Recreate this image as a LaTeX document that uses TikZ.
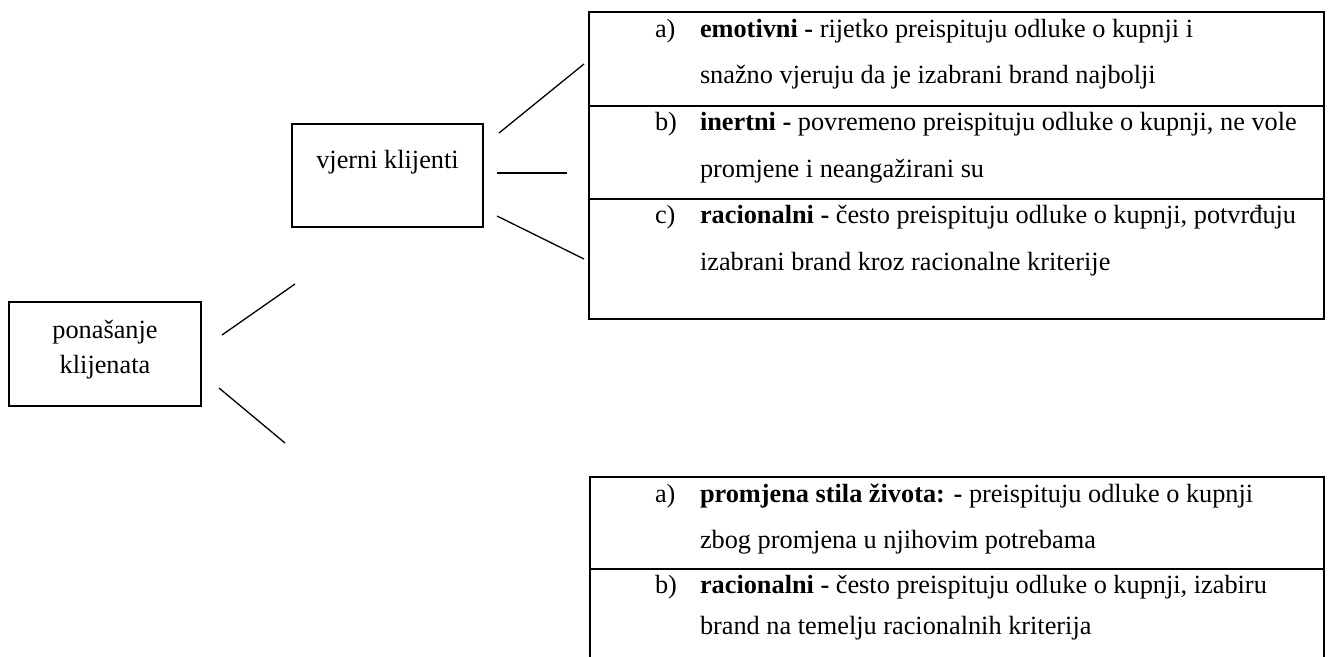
\documentclass[tikz,border=0pt]{standalone}
\usepackage{fontspec}
\setmainfont{Liberation Serif}
\newcommand{\dfs}{\fontsize{26.3bp}{32bp}\selectfont}
\tikzset{
  boxnode/.style={draw, line width=2bp, rectangle, inner sep=0pt, outer sep=0pt},
  conn/.style={line width=1.3bp},
  tbl/.style={line width=2.2bp, line join=miter},
  txt/.style={anchor=base west, inner sep=0pt, outer sep=0pt, font=\dfs},
  ctxt/.style={anchor=base, inner sep=0pt, outer sep=0pt, font=\dfs},
}
\begin{document}
\begin{tikzpicture}[x=1bp,y=-1bp]
\useasboundingbox (0,0) rectangle (1331,657);
% left boxes
\node[boxnode, minimum width=192bp, minimum height=104bp] (pon) at (105,354) {};
\node[ctxt] (pon1) at (105,338) {ponašanje};
\node[ctxt] (pon2) at (105,373) {klijenata};
\node[boxnode, minimum width=191bp, minimum height=103bp] (vj) at (387.5,175.5) {};
\node[ctxt] (vjt) at (387.5,168) {vjerni klijenti};
% upper table
\node[boxnode, line width=2.2bp, minimum width=735bp, minimum height=307bp] (t1) at (956.5,165.5) {};
\coordinate (t1d1l) at (589,106); \coordinate (t1d1r) at (1324,106);
\coordinate (t1d2l) at (589,199); \coordinate (t1d2r) at (1324,199);
\draw[tbl] (t1d1l) -- (t1d1r);
\draw[tbl] (t1d2l) -- (t1d2r);
% lower table (cut at the bottom)
\coordinate (t2bl) at (590,658); \coordinate (t2tl) at (590,477);
\coordinate (t2tr) at (1324,477); \coordinate (t2br) at (1324,658);
\coordinate (t2dl) at (590,569); \coordinate (t2dr) at (1324,569);
\draw[tbl] (t2bl) -- (t2tl) -- (t2tr) -- (t2br);
\draw[tbl] (t2dl) -- (t2dr);
% connectors
\coordinate (p1s) at (222,335); \coordinate (p1e) at (295,284);
\coordinate (p2s) at (219,388); \coordinate (p2e) at (285,443);
\coordinate (v1s) at (499,133); \coordinate (v1e) at (584,64);
\coordinate (v2s) at (497,173); \coordinate (v2e) at (567,173);
\coordinate (v3s) at (497,216); \coordinate (v3e) at (584,259);
\draw[conn] (p1s) -- (p1e);
\draw[conn] (p2s) -- (p2e);
\draw[conn] (v1s) -- (v1e);
\draw[conn] (v2s) -- (v2e);
\draw[conn] (v3s) -- (v3e);
% upper table text
\node[txt] (la) at (655,37.5) {a)};
\node[txt] (ta1) at (700,37.5) {\textbf{emotivni -} rijetko preispituju odluke o kupnji i};
\node[txt] (ta2) at (700,84) {snažno vjeruju da je izabrani brand najbolji};
\node[txt] (lb) at (655,130.5) {b)};
\node[txt] (tb1) at (700,130.5) {\textbf{inertni -} povremeno preispituju odluke o kupnji, ne vole};
\node[txt] (tb2) at (700,177) {promjene i neangažirani su};
\node[txt] (lc) at (655,223.5) {c)};
\node[txt] (tc1) at (700,223.5) {\textbf{racionalni -} često preispituju odluke o kupnji, potvrđuju};
\node[txt] (tc2) at (700,270) {izabrani brand kroz racionalne kriterije};
% lower table text
\node[txt] (la2) at (655,502) {a)};
\node[txt] (ua1) at (700,502) {\textbf{promjena stila života: -} preispituju odluke o kupnji};
\node[txt] (ua2) at (700,548) {zbog promjena u njihovim potrebama};
\node[txt] (lb2) at (655,593) {b)};
\node[txt] (ub1) at (700,593) {\textbf{racionalni -} često preispituju odluke o kupnji, izabiru};
\node[txt] (ub2) at (700,634) {brand na temelju racionalnih kriterija};
\end{tikzpicture}
\end{document}
